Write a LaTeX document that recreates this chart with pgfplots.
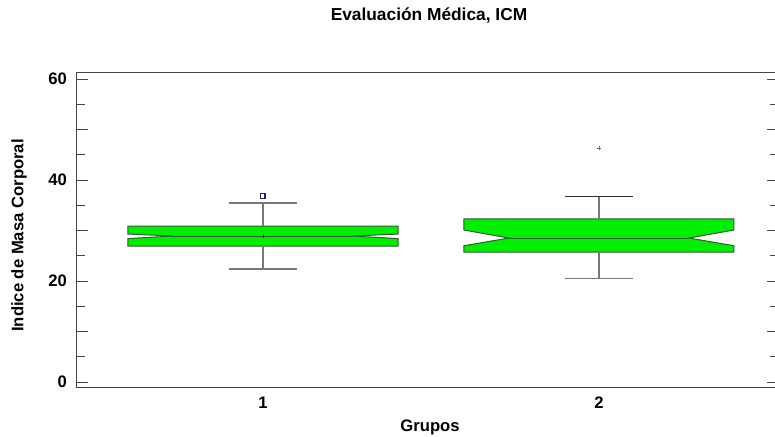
\documentclass[border=0pt]{standalone}
\usepackage{pgfplots}
\pgfplotsset{compat=1.18}
\usepackage{fontspec}
\setmainfont{Liberation Sans}
\definecolor{boxfill}{RGB}{0,238,0}
\definecolor{boxedge}{RGB}{55,90,55}
\definecolor{whisk}{RGB}{120,120,120}
\definecolor{axcol}{RGB}{70,70,70}
\definecolor{outblue}{RGB}{30,30,140}
\definecolor{outbrown}{RGB}{150,95,50}
\begin{document}
\begin{tikzpicture}
\useasboundingbox (0,0) rectangle (581.25pt,327pt);
\begin{axis}[
  at={(57pt,36.75pt)}, anchor=south west,
  scale only axis, width=527.25pt, height=236.25pt,
  xmin=0.4435, xmax=2.536, ymin=-0.99, ymax=61.39,
  axis line style={axcol, line width=0.75pt},
  xtick={1,2}, xticklabels={1,2},
  xtick style={draw=none},
  ytick={0,10,...,60}, yticklabels={0,,20,,40,,60},
  minor ytick={5,15,...,55},
  ytick pos=both, tick align=inside,
  ytick style={axcol, line width=0.75pt},
  major tick length=9pt, minor tick length=6.75pt,
  /pgf/number format/assume math mode=true,
  ticklabel style={font=\bfseries\fontsize{12.5}{14}\selectfont},
  yticklabel style={xshift=-3.3pt},
  xticklabel style={yshift=-4pt},
  clip=false,
]
% Box 1 (notched)
\addplot[fill=boxfill, draw=boxedge, line width=0.75pt] coordinates {
  (0.598,26.93) (1.402,26.93) (1.402,28.40) (1.268,28.91) (1.402,29.30)
  (1.402,30.89) (0.598,30.89) (0.598,29.30) (0.732,28.91) (0.598,28.40)
} -- cycle;
\addplot[boxedge, line width=0.75pt] coordinates {(0.732,28.91) (1.268,28.91)};
% Box 2 (notched)
\addplot[fill=boxfill, draw=boxedge, line width=0.75pt] coordinates {
  (1.598,25.74) (2.402,25.74) (2.402,26.99) (2.268,28.51) (2.402,30.10)
  (2.402,32.28) (1.598,32.28) (1.598,30.10) (1.732,28.51) (1.598,26.99)
} -- cycle;
\addplot[boxedge, line width=0.75pt] coordinates {(1.732,28.51) (2.268,28.51)};
% Whiskers box 1
\addplot[whisk, line width=1.2pt] coordinates {(1,30.89) (1,35.45)};
\addplot[whisk, line width=1.2pt] coordinates {(1,26.93) (1,22.38)};
\addplot[whisk, line width=1.2pt] coordinates {(0.899,35.45) (1.101,35.45)};
\addplot[whisk, line width=1.2pt] coordinates {(0.899,22.38) (1.101,22.38)};
% Whiskers box 2
\addplot[whisk, line width=1.2pt] coordinates {(2,32.28) (2,36.77)};
\addplot[whisk, line width=1.2pt] coordinates {(2,25.74) (2,20.46)};
\addplot[black!80, line width=1.2pt] coordinates {(1.899,36.77) (2.101,36.77)};
\addplot[whisk, line width=1.2pt] coordinates {(1.899,20.46) (2.101,20.46)};
% Means
\addplot[only marks, mark=+, mark size=1.6pt, boxedge!70!black, line width=0.6pt] coordinates {(1,28.91)};
% Outliers
\addplot[only marks, mark=square, mark size=1.6pt, outblue, line width=0.9pt] coordinates {(1,36.83)};
\addplot[only marks, mark=+, mark size=1.8pt, outbrown, line width=0.6pt] coordinates {(2,46.34)};
\end{axis}
\node[anchor=base, font=\bfseries\fontsize{13}{15}\selectfont] at (321.75pt,311.25pt) {Evaluación Médica, ICM};
\node[anchor=base, font=\bfseries\fontsize{12.5}{14}\selectfont] at (322.5pt,3.75pt) {Grupos};
\node[rotate=90, font=\bfseries\fontsize{12.5}{14}\selectfont] at (14.25pt,150.4pt) {Indice de Masa Corporal};
\end{tikzpicture}
\end{document}
